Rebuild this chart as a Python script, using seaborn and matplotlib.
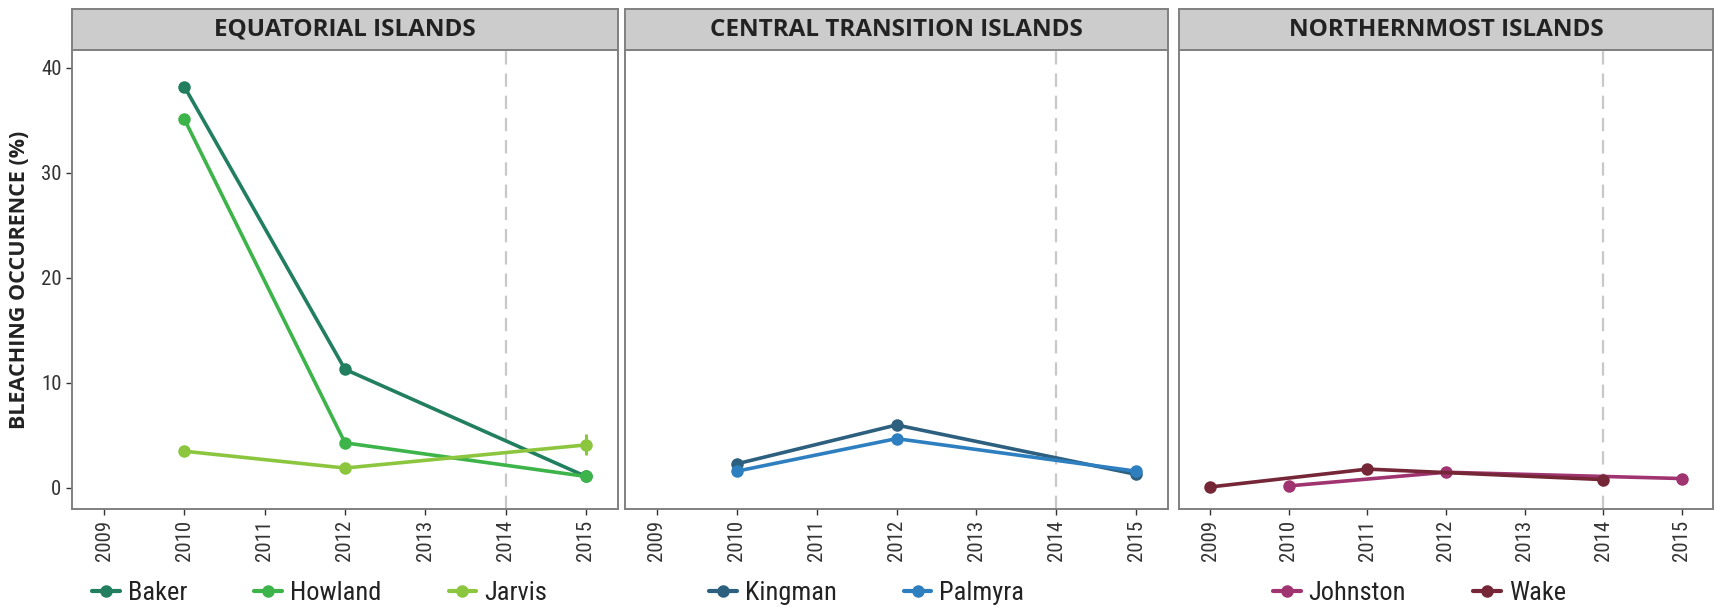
import pandas as pd
import matplotlib
matplotlib.use('Agg')
import matplotlib.pyplot as plt
import seaborn as sns
from matplotlib.lines import Line2D

# data
regions = ['EQUATORIAL ISLANDS', 'CENTRAL TRANSITION ISLANDS', 'NORTHERNMOST ISLANDS']
region_islands = [['Baker', 'Howland', 'Jarvis'], ['Kingman', 'Palmyra'], ['Johnston', 'Wake']]

baker_years = [2010, 2012, 2015]
baker = [38.2, 11.3, 1.1]
howland_years = [2010, 2012, 2015]
howland = [35.1, 4.3, 1.1]
jarvis_years = [2010, 2012, 2015]
jarvis = [3.5, 1.9, 4.1]
jarvis_err = [0.0, 0.0, 1.0]
kingman_years = [2010, 2012, 2015]
kingman = [2.3, 6.0, 1.3]
palmyra_years = [2010, 2012, 2015]
palmyra = [1.6, 4.7, 1.6]
johnston_years = [2010, 2012, 2015]
johnston = [0.2, 1.5, 0.9]
wake_years = [2009, 2011, 2014]
wake = [0.1, 1.8, 0.8]

year_ticks = [2009, 2010, 2011, 2012, 2013, 2014, 2015]
y_ticks = [0, 10, 20, 30, 40]
cutoff_year = 2014

colors = {'Baker': '#217f5f', 'Howland': '#3cb44a', 'Jarvis': '#8cc63f',
          'Kingman': '#2d5f7f', 'Palmyra': '#2e7fc0',
          'Johnston': '#a03470', 'Wake': '#752737'}

series = {'Baker': (baker_years, baker), 'Howland': (howland_years, howland),
          'Jarvis': (jarvis_years, jarvis), 'Kingman': (kingman_years, kingman),
          'Palmyra': (palmyra_years, palmyra), 'Johnston': (johnston_years, johnston),
          'Wake': (wake_years, wake)}

rows = []
for reg, names in zip(regions, region_islands):
    for n in names:
        yrs, vals = series[n]
        for yr, v in zip(yrs, vals):
            rows.append({'region': reg, 'island': n, 'year': yr, 'bleaching': v})
df = pd.DataFrame(rows)

sns.set_style('white')
cond = ['Roboto Condensed', 'Liberation Sans', 'DejaVu Sans']
bold_font = ['Open Sans', 'DejaVu Sans']
plt.rcParams['font.family'] = cond

fig = plt.figure(figsize=(17.15, 6.07), dpi=100)
W, H = 1715, 607
panels = [(72, 618), (625, 1168), (1179, 1713)]
ax_top, ax_bot = 50, 509
strip_top = 9
leg_x = [92, 709, 1273]

for i, (reg, (x0, x1)) in enumerate(zip(regions, panels)):
    ax = fig.add_axes([x0 / W, 1 - ax_bot / H, (x1 - x0) / W, (ax_bot - ax_top) / H])
    sub = df[df.region == reg]
    pal = [colors[n] for n in region_islands[i]]
    ax.axvline(cutoff_year, color='#c8c8c8', lw=1.6, ls=(0, (6, 4)), zorder=1)
    sns.lineplot(data=sub, x='year', y='bleaching', hue='island', hue_order=region_islands[i],
                 palette=pal, marker='o', markersize=9, markeredgewidth=0, linewidth=2.6,
                 legend=False, ax=ax, zorder=3)
    if reg == regions[0]:
        ax.errorbar([jarvis_years[-1]], [jarvis[-1]], yerr=[jarvis_err[-1]],
                    color=colors['Jarvis'], lw=2.2, fmt='none', zorder=2)
    ax.set_xlim(2008.6, 2015.4)
    ax.set_ylim(-2, 41.7)
    ax.set_xticks(year_ticks)
    ax.set_xticklabels([str(y) for y in year_ticks], rotation=90, fontsize=15, color='#333333')
    ax.set_xlabel('')
    ax.set_ylabel('')
    if i == 0:
        ax.set_yticks(y_ticks)
        ax.set_yticklabels([str(y) for y in y_ticks], fontsize=15, color='#333333')
        ax.tick_params(axis='y', length=4, width=1, color='#333333', direction='out', left=True)
    else:
        ax.set_yticks([])
    ax.tick_params(axis='x', length=4, width=1, color='#333333', direction='out', bottom=True, pad=4)
    for s in ax.spines.values():
        s.set_color('#808080')
        s.set_linewidth(1.4)

    # facet strip
    sax = fig.add_axes([x0 / W, 1 - ax_top / H, (x1 - x0) / W, (ax_top - strip_top) / H])
    sax.set_facecolor('#cccccc')
    sax.set_xticks([])
    sax.set_yticks([])
    for s in sax.spines.values():
        s.set_color('#808080')
        s.set_linewidth(1.4)
    sax.text(0.5, 0.5, reg, ha='center', va='center', fontsize=17.5, fontweight='bold',
             color='#222222', family=bold_font, transform=sax.transAxes)

    handles = [Line2D([], [], color=colors[n], lw=3, marker='o', markersize=9, markeredgewidth=0)
               for n in region_islands[i]]
    fig.legend(handles, region_islands[i], loc='center left', ncol=len(handles),
               bbox_to_anchor=(leg_x[i] / W, 1 - 593 / H), frameon=False, borderpad=0,
               borderaxespad=0, fontsize=19, handlelength=1.05, handletextpad=0.3,
               columnspacing=2.55, labelcolor='#222222')

fig.text(20 / W, 1 - (ax_top + ax_bot) / 2 / H, 'BLEACHING OCCURENCE (%)', rotation=90,
         ha='center', va='center', fontsize=15.5, fontweight='bold', color='#222222',
         family=bold_font)

fig.savefig('out.png', dpi=100)
